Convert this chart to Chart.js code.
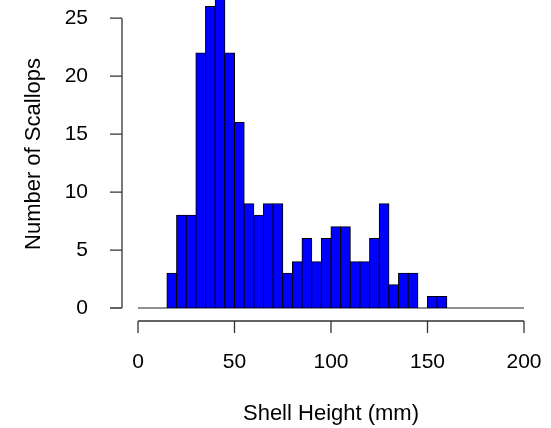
<!DOCTYPE html>
<html>
<head>
<meta charset="utf-8">
<script src="https://cdn.jsdelivr.net/npm/chart.js@4"></script>
<style>
  html, body { margin: 0; padding: 0; background: #ffffff; }
  #wrap { width: 551px; height: 428px; }
</style>
</head>
<body>
<div id="wrap"><canvas id="c" width="551" height="428"></canvas></div>
<script>
// Histogram bins (left edges, mm) and counts
const binStarts = [0, 5, 10, 15, 20, 25, 30, 35, 40, 45, 50, 55, 60, 65, 70, 75, 80, 85, 90, 95,
                   100, 105, 110, 115, 120, 125, 130, 135, 140, 145, 150, 155, 160, 165, 170, 175, 180, 185, 190, 195];
const binWidth = 5;
const counts = [0, 0, 0, 3, 8, 8, 22, 26, 27, 22, 16, 9, 8, 9, 9, 3, 4, 6, 4, 6,
                7, 7, 4, 4, 6, 9, 2, 3, 3, 0, 1, 1, 0, 0, 0, 0, 0, 0, 0, 0];
const xTicks = [0, 50, 100, 150, 200];
const yTicks = [0, 5, 10, 15, 20, 25];
const xTitle = 'Shell Height (mm)';
const yTitle = 'Number of Scallops';

const FONT = "'Liberation Sans', Arial, Helvetica, sans-serif";
const FS = 21;
const FT = 22;

const points = binStarts.map((s, i) => ({ x: s + binWidth / 2, y: counts[i] }));

const rAxes = {
  id: 'rAxes',
  beforeDatasetsDraw(chart) {
    const { ctx, scales: { x, y } } = chart;
    ctx.save();
    ctx.strokeStyle = '#222';
    ctx.lineWidth = 1.2;
    const y0 = y.getPixelForValue(0);
    ctx.beginPath();
    ctx.moveTo(x.getPixelForValue(binStarts[0]), y0);
    ctx.lineTo(x.getPixelForValue(binStarts[binStarts.length - 1] + binWidth), y0);
    ctx.stroke();
    ctx.restore();
  },
  afterDraw(chart) {
    const { ctx, scales: { x, y } } = chart;
    ctx.save();
    ctx.strokeStyle = '#333';
    ctx.lineWidth = 1.3;
    const ax = chart.chartArea.left - 16;
    const yTop = y.getPixelForValue(yTicks[yTicks.length - 1]);
    const yBot = y.getPixelForValue(yTicks[0]);
    ctx.beginPath();
    ctx.moveTo(ax, yTop); ctx.lineTo(ax, yBot);
    yTicks.forEach(v => {
      const py = y.getPixelForValue(v);
      ctx.moveTo(ax, py); ctx.lineTo(ax - 12, py);
    });
    ctx.stroke();
    const ay = y.getPixelForValue(0) + 13;
    ctx.beginPath();
    ctx.moveTo(x.getPixelForValue(xTicks[0]), ay);
    ctx.lineTo(x.getPixelForValue(xTicks[xTicks.length - 1]), ay);
    xTicks.forEach(v => {
      const px = x.getPixelForValue(v);
      ctx.moveTo(px, ay); ctx.lineTo(px, ay + 12);
    });
    ctx.stroke();
    ctx.restore();
  }
};

new Chart(document.getElementById('c'), {
  type: 'bar',
  data: {
    datasets: [{
      data: points,
      backgroundColor: '#0000FF',
      borderColor: '#000000',
      borderWidth: 1,
      borderSkipped: false,
      inflateAmount: 0.5,
      barPercentage: 1.0,
      categoryPercentage: 1.0
    }]
  },
  options: {
    responsive: false,
    animation: false,
    devicePixelRatio: 1,
    layout: { padding: { left: 0, right: 27, top: 0, bottom: 0 } },
    plugins: { legend: { display: false }, tooltip: { enabled: false } },
    scales: {
      x: {
        type: 'linear',
        min: 0,
        max: 200,
        offset: false,
        grid: { display: false },
        border: { display: false },
        afterBuildTicks: s => { s.ticks = xTicks.map(v => ({ value: v })); },
        afterFit: s => { s.height = 120; s.paddingLeft = 0; s.paddingRight = 0; },
        ticks: {
          color: '#000',
          font: { family: FONT, size: FS },
          padding: 34,
          maxRotation: 0,
          autoSkip: false
        },
        title: {
          display: true,
          text: xTitle,
          color: '#000',
          font: { family: FONT, size: FT },
          padding: { top: 0, bottom: 1 }
        }
      },
      y: {
        type: 'linear',
        min: 0,
        max: 26.57,
        grid: { display: false },
        border: { display: false },
        afterBuildTicks: s => { s.ticks = yTicks.map(v => ({ value: v })); },
        afterFit: s => { s.width = 138; s.paddingTop = 0; s.paddingBottom = 0; },
        ticks: {
          color: '#000',
          font: { family: FONT, size: FS },
          padding: 42,
          autoSkip: false
        },
        title: {
          display: true,
          text: yTitle,
          color: '#000',
          font: { family: FONT, size: FT },
          padding: { top: 21, bottom: 0 }
        }
      }
    }
  },
  plugins: [rAxes]
});
</script>
</body>
</html>
